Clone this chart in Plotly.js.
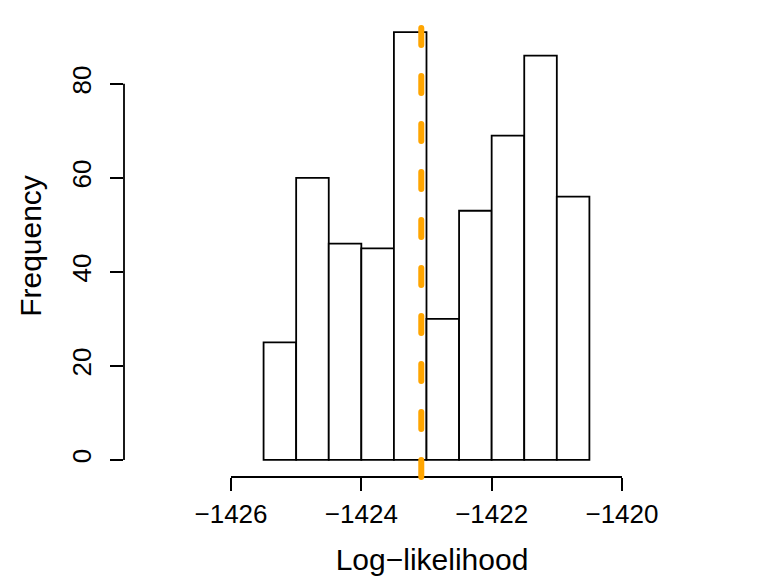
<!DOCTYPE html>
<html>
<head>
<meta charset="utf-8">
<script src="https://cdn.plot.ly/plotly-3.0.1.min.js"></script>
<style>html,body{margin:0;padding:0;background:#fff;}#chart{width:766px;height:580px;}</style>
</head>
<body>
<div id="chart"></div>
<script>
// Histogram data (bin edges and counts)
const breaks = [-1425.5, -1425, -1424.5, -1424, -1423.5, -1423, -1422.5, -1422, -1421.5, -1421, -1420.5];
const counts = [25, 60, 46, 45, 91, 30, 53, 69, 86, 56];
const refValue = -1423.08;
const xTicks = [-1426, -1424, -1422, -1420];
const yTicks = [0, 20, 40, 60, 80];

const centers = counts.map((c, i) => (breaks[i] + breaks[i + 1]) / 2);
const widths = counts.map((c, i) => breaks[i + 1] - breaks[i]);

const FONT = 'Liberation Sans, Arial, sans-serif';

const trace = {
  type: 'bar',
  x: centers,
  y: counts,
  width: widths,
  marker: {color: '#ffffff', line: {color: '#000000', width: 1.8}},
  hoverinfo: 'x+y'
};

const layout = {
  width: 766, height: 580,
  margin: {l: 124, r: 26, t: 15, b: 103},
  paper_bgcolor: '#ffffff', plot_bgcolor: '#ffffff',
  showlegend: false,
  font: {family: FONT, size: 25, color: '#000'},
  bargap: 0,
  xaxis: {
    range: [-1427.642, -1418.189],
    tickvals: xTicks,
    ticks: 'outside', ticklen: 13, tickwidth: 1.8, tickcolor: '#000',
    showgrid: false, zeroline: false, showline: false,
    tickfont: {family: FONT, size: 26, color: '#000'},
    ticklabelstandoff: 1,
    title: {text: 'Log\u2212likelihood', font: {family: FONT, size: 30, color: '#000'}, standoff: 20},
    automargin: false
  },
  yaxis: {
    range: [-3.64, 94.64],
    tickvals: yTicks,
    ticks: 'outside', ticklen: 13, tickwidth: 1.8, tickcolor: '#000',
    tickangle: -90,
    showgrid: false, zeroline: false, showline: false,
    tickfont: {family: FONT, size: 26, color: '#000'},
    ticklabelstandoff: 9,
    title: {text: 'Frequency', font: {family: FONT, size: 30, color: '#000'}, standoff: 16},
    automargin: false
  },
  shapes: [
    {type: 'line', xref: 'x', yref: 'paper', x0: xTicks[0], x1: xTicks[xTicks.length - 1], y0: 0, y1: 0,
     line: {color: '#000', width: 1.8}},
    {type: 'line', xref: 'paper', yref: 'y', x0: 0, x1: 0, y0: yTicks[0], y1: yTicks[yTicks.length - 1],
     line: {color: '#000', width: 1.8}},
    {type: 'line', xref: 'x', yref: 'paper', x0: refValue, x1: refValue, y0: 0, y1: 1,
     line: {color: '#FFA500', width: 6, dash: '17px,31px'}}
  ]
};

Plotly.newPlot('chart', [trace], layout, {displayModeBar: false, staticPlot: true}).then(function (gd) {
  gd.querySelectorAll('.shapelayer path').forEach(function (p) {
    if ((p.style.stroke || '').indexOf('255, 165, 0') >= 0) p.style.strokeLinecap = 'round';
  });
});
</script>
</body>
</html>
